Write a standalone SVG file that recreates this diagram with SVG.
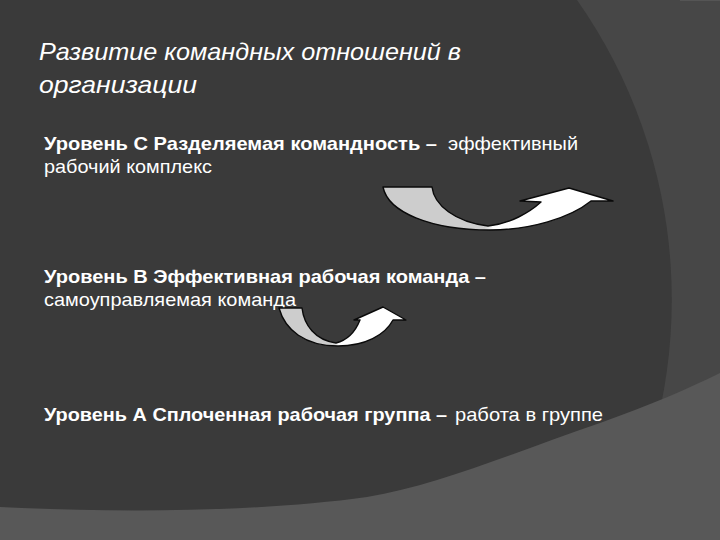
<svg xmlns="http://www.w3.org/2000/svg" width="720" height="540" viewBox="0 0 720 540">
  <style>
    .t { fill: #ffffff; font-family: "Liberation Sans", Arial, sans-serif; }
    .title { font-size: 24px; font-style: italic; }
    .b { font-size: 19px; font-weight: bold; }
    .r { font-size: 19px; font-weight: normal; }
    .arrow { stroke: #0a0a0a; stroke-width: 1.4; stroke-linejoin: round; }
  </style>
  <defs>
    <linearGradient id="gTop" x1="0" y1="0" x2="1" y2="0">
      <stop offset="0" stop-color="#cdcdcd"/>
      <stop offset="0.44" stop-color="#cdcdcd"/>
      <stop offset="0.48" stop-color="#ffffff"/>
      <stop offset="1" stop-color="#ffffff"/>
    </linearGradient>
    <linearGradient id="gBot" x1="0" y1="0" x2="1" y2="0">
      <stop offset="0" stop-color="#cdcdcd"/>
      <stop offset="0.43" stop-color="#cdcdcd"/>
      <stop offset="0.47" stop-color="#ffffff"/>
      <stop offset="1" stop-color="#ffffff"/>
    </linearGradient>
  </defs>

  <!-- background -->
  <rect x="0" y="0" width="720" height="540" fill="#474747"/>
  <path d="M0,0 L577,0 A521,521 0 0 1 613,540 L0,540 Z" fill="#3a3a3a"/>
  <line x1="680" y1="0.5" x2="720" y2="0.5" stroke="#555555" stroke-width="1"/>
  <path d="M0,507 C120,513 260,512 367,497 C440,485 520,450 600,423 C650,405 690,388 720,373 L720,540 L0,540 Z" fill="#585858"/>

  <g id="title">
    <text class="t title" x="39" y="60" textLength="422" lengthAdjust="spacingAndGlyphs">Развитие командных отношений в</text>
    <text class="t title" x="39" y="93" textLength="158" lengthAdjust="spacingAndGlyphs">организации</text>
  </g>

  <g id="level-c">
    <text class="t b" x="44" y="150" textLength="393" lengthAdjust="spacingAndGlyphs">Уровень С Разделяемая командность –</text>
    <text class="t r" x="448" y="150" textLength="130" lengthAdjust="spacingAndGlyphs">эффективный</text>
    <text class="t r" x="44" y="173" textLength="168" lengthAdjust="spacingAndGlyphs">рабочий комплекс</text>
  </g>

  <g id="level-b">
    <text class="t b" x="44" y="283" textLength="442" lengthAdjust="spacingAndGlyphs">Уровень В Эффективная рабочая команда –</text>
    <text class="t r" x="44" y="306" textLength="252" lengthAdjust="spacingAndGlyphs">самоуправляемая команда</text>
  </g>

  <g id="level-a">
    <text class="t b" x="44" y="421" textLength="403" lengthAdjust="spacingAndGlyphs">Уровень А Сплоченная рабочая группа –</text>
    <text class="t r" x="455" y="421" textLength="148" lengthAdjust="spacingAndGlyphs">работа в группе</text>
  </g>

  <g id="connectors">
    <path id="arrow-top" class="arrow" fill="url(#gTop)" d="M383,187 L432,187 C434,205 455,222 488,226 C510,224 530,212 541,202 L520,201 L569,188 L613,201 L591,201 C570,218 530,230 490,230 C430,230 388,212 383,187 Z"/>
    <path id="arrow-bottom" class="arrow" fill="url(#gBot)" d="M279,308 L302,308 C304,325 315,340 336,343 C348,340 356,330 360,320 L354,320 L383,307 L406,320 L393,320 C385,335 365,346 338,346 C305,346 285,330 279,308 Z"/>
  </g>
</svg>
